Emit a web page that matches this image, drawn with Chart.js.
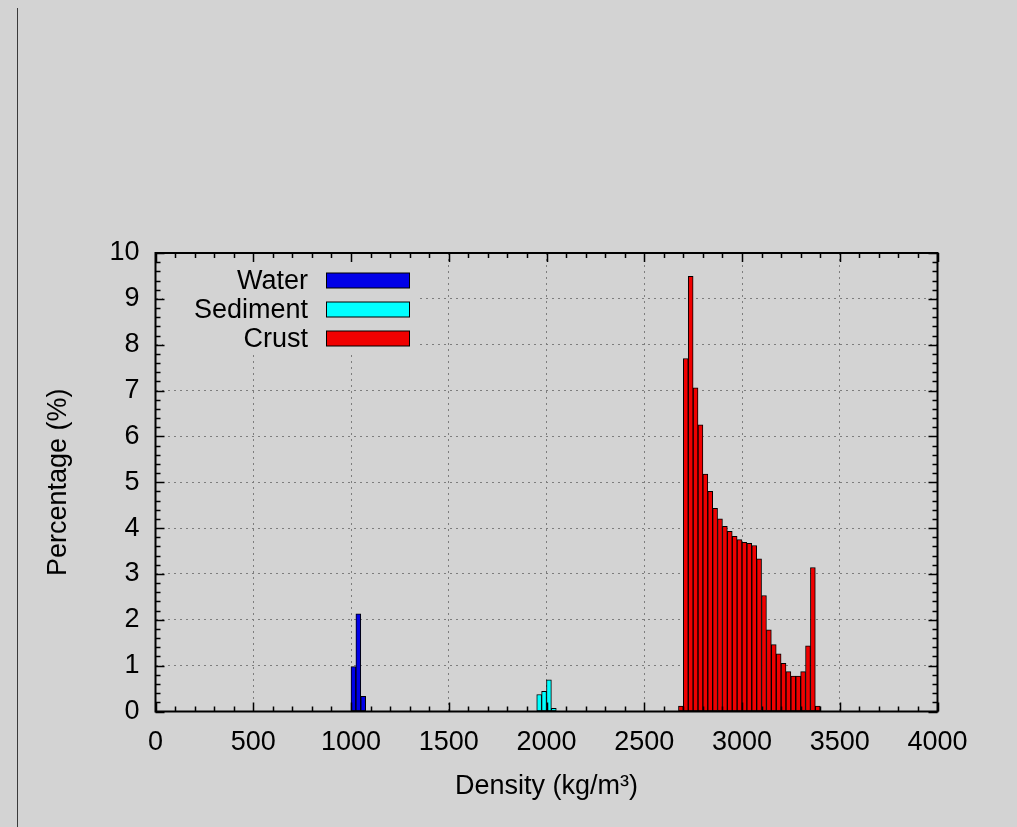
<!DOCTYPE html>
<html><head><meta charset="utf-8">
<script src="https://cdn.jsdelivr.net/npm/chart.js@4.4.0/dist/chart.umd.min.js"></script>
<style>
html,body{margin:0;padding:0;background:#d3d3d3;}
#wrap{position:relative;width:1017px;height:827px;overflow:hidden;background:#d3d3d3;}
#edge{position:absolute;left:17px;top:8px;width:1px;height:819px;background:#3a3a3a;}
canvas{position:absolute;left:0;top:0;}
</style></head><body>
<div id="wrap"><canvas id="c" width="1017" height="827"></canvas><div id="edge"></div></div>
<script>
// ---- data (bin centres in kg/m3, percentages) ----
const waterDensity = [1012.5, 1037.5, 1062.5];
const waterPercent = [0.98, 2.13, 0.33];
const sedimentDensity = [1962.5, 1987.5, 2012.5, 2037.5];
const sedimentPercent = [0.37, 0.44, 0.69, 0.07];
const crustDensity = [2687.5, 2712.5, 2737.5, 2762.5, 2787.5, 2812.5, 2837.5, 2862.5, 2887.5, 2912.5,
                      2937.5, 2962.5, 2987.5, 3012.5, 3037.5, 3062.5, 3087.5, 3112.5, 3137.5, 3162.5,
                      3187.5, 3212.5, 3237.5, 3262.5, 3287.5, 3312.5, 3337.5, 3362.5, 3387.5];
const crustPercent = [0.12, 7.70, 9.49, 7.06, 6.25, 5.18, 4.80, 4.43, 4.20, 4.04,
                      3.93, 3.82, 3.75, 3.69, 3.67, 3.62, 3.33, 2.53, 1.78, 1.46,
                      1.26, 1.05, 0.87, 0.77, 0.77, 0.87, 1.43, 3.14, 0.12];
const seriesNames = ['Water', 'Sediment', 'Crust'];
const xTickLabels = ['0', '500', '1000', '1500', '2000', '2500', '3000', '3500', '4000'];
const yTickLabels = ['0', '1', '2', '3', '4', '5', '6', '7', '8', '9', '10'];
const xTitle = 'Density (kg/m\u00B3)';
const yTitle = 'Percentage (%)';

const colors = ['#0000e8', '#00ffff', '#f00000'];
const FONT = "'Liberation Sans', Arial, Helvetica, sans-serif";

function makeSet(label, xs, ys, color) {
  return {
    label: label,
    data: xs.map((x, i) => ({x: x, y: ys[i]})),
    backgroundColor: color,
    borderColor: '#000000',
    borderWidth: 1,
    borderSkipped: false,
    barPercentage: 1,
    categoryPercentage: 1,
    grouped: false
  };
}

const gnuplotDeco = {
  id: 'gnuplotDeco',
  beforeDatasetsDraw(chart) {
    const ctx = chart.ctx;
    ctx.save();
    // legend box background (hides grid behind key)
    ctx.fillStyle = '#d3d3d3';
    ctx.fillRect(163, 264, 257, 90);
    ctx.font = '27px ' + FONT;
    ctx.textAlign = 'right';
    ctx.textBaseline = 'middle';
    const rowY = [280.5, 309.5, 338.5];
    chart.data.datasets.forEach((ds, i) => {
      ctx.fillStyle = '#000';
      ctx.fillText(ds.label, 308, rowY[i] + 1);
      ctx.fillStyle = ds.backgroundColor;
      ctx.fillRect(326.5, rowY[i] - 7.5, 83, 15);
      ctx.strokeStyle = '#000';
      ctx.lineWidth = 1;
      ctx.strokeRect(326.5, rowY[i] - 7.5, 83, 15);
    });
    ctx.restore();
  },
  afterDatasetsDraw(chart) {
    const ctx = chart.ctx;
    const a = chart.chartArea;
    const xs = chart.scales.x, ys = chart.scales.y;
    ctx.save();
    ctx.strokeStyle = '#000';
    ctx.lineWidth = 1.5;
    ctx.beginPath();
    for (let v = 0; v <= 4000; v += 100) {
      const p = Math.round(xs.getPixelForValue(v)) + 0.5;
      const len = (v % 500 === 0) ? 9 : 5;
      ctx.moveTo(p, a.bottom); ctx.lineTo(p, a.bottom - len);
      ctx.moveTo(p, a.top); ctx.lineTo(p, a.top + len);
    }
    for (let k = 0; k <= 50; k++) {
      const v = k / 5;
      const p = Math.round(ys.getPixelForValue(v)) + 0.5;
      const len = (k % 5 === 0) ? 9 : 5;
      ctx.moveTo(a.left, p); ctx.lineTo(a.left + len, p);
      ctx.moveTo(a.right, p); ctx.lineTo(a.right - len, p);
    }
    ctx.stroke();
    ctx.lineWidth = 2;
    ctx.strokeRect(a.left, a.top, a.right - a.left, a.bottom - a.top);
    ctx.restore();
  }
};

Chart.defaults.font.family = FONT;
Chart.defaults.color = '#000';

new Chart(document.getElementById('c'), {
  type: 'bar',
  data: {
    datasets: [
      makeSet(seriesNames[0], waterDensity, waterPercent, colors[0]),
      makeSet(seriesNames[1], sedimentDensity, sedimentPercent, colors[1]),
      makeSet(seriesNames[2], crustDensity, crustPercent, colors[2])
    ]
  },
  options: {
    responsive: false,
    animation: false,
    devicePixelRatio: 1,
    layout: {padding: {left: 0, top: 253, right: 79.5, bottom: 0}},
    plugins: {legend: {display: false}, tooltip: {enabled: false}},
    scales: {
      x: {
        type: 'linear', min: 0, max: 4000, offset: false,
        ticks: {
          stepSize: 500, autoSkip: false, maxRotation: 0, padding: 15,
          font: {size: 27}, color: '#000',
          callback: (v) => xTickLabels[Math.round(v / 500)]
        },
        grid: {drawTicks: false, color: '#7d7d7d', lineWidth: 1, offset: false},
        border: {display: false, dash: [2, 4]},
        title: {display: true, text: xTitle, font: {size: 27}, color: '#000', padding: {top: 0, bottom: 24}},
        afterFit: (s) => { s.height = 115.5; }
      },
      y: {
        type: 'linear', min: 0, max: 10,
        ticks: {
          stepSize: 1, padding: 16, font: {size: 27}, color: '#000',
          callback: (v) => yTickLabels[Math.round(v)]
        },
        grid: {drawTicks: false, color: '#7d7d7d', lineWidth: 1},
        border: {display: false, dash: [2, 4]},
        title: {display: true, text: yTitle, font: {size: 27}, color: '#000', padding: {top: 42, bottom: 0}},
        afterFit: (s) => { s.width = 155.5; }
      }
    }
  },
  plugins: [gnuplotDeco]
});
</script>
</body></html>
